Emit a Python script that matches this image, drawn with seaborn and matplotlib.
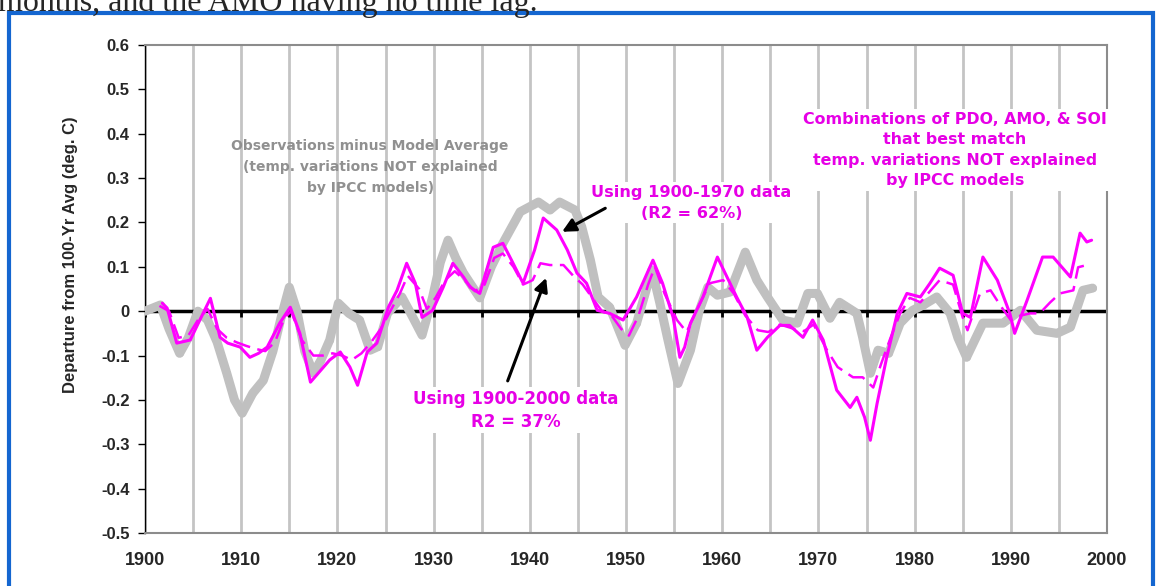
import numpy as np
import pandas as pd
import seaborn as sns
import matplotlib.pyplot as plt
from matplotlib.patches import Rectangle
from matplotlib.ticker import MultipleLocator

# Observations minus model average (grey)
obs_years = [1900.0, 1901.6, 1902.5, 1903.6, 1904.5, 1905.5, 1906.5, 1907.5, 1908.5, 1909.3,
             1910.1, 1911.2, 1912.3, 1913.3, 1914.2, 1915.0, 1915.8, 1916.6, 1917.5, 1918.3,
             1919.2, 1920.1, 1921.2, 1922.3, 1923.4, 1924.2, 1925.2, 1926.7, 1927.5, 1928.8,
             1929.9, 1930.7, 1931.5, 1932.3, 1933.1, 1934.8, 1936.0, 1937.2, 1939.0, 1940.9,
             1942.1, 1943.1, 1944.7, 1945.4, 1946.3, 1947.1, 1948.3, 1949.9, 1951.1, 1952.7,
             1953.5, 1954.3, 1955.4, 1956.7, 1957.6, 1958.5, 1959.5, 1960.8, 1962.4, 1963.6,
             1964.7, 1966.3, 1967.8, 1968.9, 1969.9, 1971.2, 1972.2, 1974.0, 1974.6, 1975.4,
             1976.2, 1977.3, 1978.5, 1979.8, 1981.0, 1982.3, 1983.7, 1984.5, 1985.4, 1987.1,
             1989.2, 1991.0, 1992.7, 1994.8, 1996.2, 1997.5, 1998.5]
obs_vals = [0.0, 0.014, -0.04, -0.095, -0.06, 0.0, -0.02, -0.07, -0.14, -0.2,
            -0.23, -0.185, -0.156, -0.09, -0.01, 0.054, 0.0, -0.09, -0.14, -0.11,
            -0.065, 0.018, -0.005, -0.02, -0.088, -0.08, -0.005, 0.032, 0.0, -0.054,
            0.032, 0.11, 0.16, 0.12, 0.086, 0.03, 0.1, 0.153, 0.224, 0.246,
            0.228, 0.246, 0.228, 0.19, 0.115, 0.032, 0.009, -0.077, -0.027, 0.093,
            0.02, -0.059, -0.163, -0.088, 0.0, 0.054, 0.036, 0.043, 0.133, 0.07,
            0.032, -0.02, -0.027, 0.04, 0.04, -0.016, 0.02, -0.005, -0.059, -0.14,
            -0.088, -0.095, -0.027, 0.002, 0.015, 0.032, -0.005, -0.06, -0.104, -0.027,
            -0.027, 0.002, -0.043, -0.05, -0.036, 0.047, 0.052]

# PDO/AMO/SOI fit using 1900-1970 data (solid magenta)
fit70_years = [1901.8, 1902.3, 1903.3, 1904.7, 1905.7, 1906.8, 1907.8, 1908.6, 1909.9, 1910.9,
               1911.8, 1912.7, 1914.0, 1915.1, 1916.1, 1917.2, 1919.2, 1920.3, 1921.3, 1922.1,
               1923.1, 1924.1, 1925.3, 1926.2, 1927.2, 1928.1, 1928.8, 1929.9, 1931.0, 1932.0,
               1933.1, 1933.8, 1934.8, 1936.2, 1937.2, 1938.1, 1939.3, 1940.5, 1941.4, 1942.8,
               1943.9, 1944.9, 1945.9, 1947.0, 1948.3, 1949.7, 1951.1, 1952.8, 1953.8, 1954.9,
               1955.6, 1956.1, 1956.7, 1958.0, 1959.5, 1960.5, 1961.5, 1962.6, 1963.6, 1964.7,
               1966.0, 1967.0, 1968.4, 1969.4, 1970.5, 1971.9, 1973.3, 1974.0, 1974.8, 1975.4,
               1976.1, 1977.1, 1978.2, 1979.2, 1980.6, 1981.6, 1982.6, 1984.0, 1985.0, 1985.8,
               1987.1, 1988.6, 1989.9, 1990.4, 1991.7, 1993.3, 1994.4, 1996.2, 1997.2, 1997.9,
               1998.4]
fit70_vals = [0.018, 0.007, -0.072, -0.065, -0.02, 0.029, -0.059, -0.072, -0.081, -0.104,
              -0.095, -0.081, -0.027, 0.009, -0.05, -0.16, -0.11, -0.092, -0.126, -0.167,
              -0.092, -0.072, 0.009, 0.047, 0.108, 0.063, -0.014, 0.002, 0.054, 0.108,
              0.077, 0.054, 0.04, 0.144, 0.153, 0.115, 0.063, 0.138, 0.21, 0.183,
              0.138, 0.086, 0.063, 0.002, -0.005, -0.02, 0.032, 0.115, 0.063, -0.014,
              -0.104, -0.081, -0.027, 0.032, 0.122, 0.077, 0.032, -0.014, -0.088, -0.059,
              -0.032, -0.032, -0.059, -0.02, -0.065, -0.178, -0.217, -0.194, -0.239, -0.291,
              -0.208, -0.104, -0.005, 0.04, 0.032, 0.063, 0.097, 0.081, -0.005, -0.014,
              0.122, 0.07, -0.005, -0.05, 0.025, 0.122, 0.122, 0.077, 0.176, 0.156,
              0.16]

# PDO/AMO/SOI fit using 1900-2000 data (dashed magenta)
fit00_years = [1901.5, 1902.5, 1903.5, 1904.5, 1905.5, 1906.5, 1907.5, 1908.5, 1909.5, 1910.5,
               1911.5, 1912.5, 1913.5, 1914.5, 1915.2, 1916.3, 1917.5, 1918.5, 1919.5, 1920.5,
               1921.5, 1922.5, 1923.5, 1924.5, 1925.5, 1926.5, 1927.3, 1928.5, 1929.3, 1930.2,
               1931.2, 1932.2, 1933.2, 1934.3, 1935.3, 1936.3, 1937.2, 1938.3, 1939.3, 1940.3,
               1941.1, 1942.1, 1943.5, 1944.5, 1945.5, 1946.5, 1947.5, 1948.5, 1949.5, 1950.3,
               1951.3, 1952.3, 1953.0, 1954.0, 1955.3, 1956.3, 1957.3, 1958.7, 1960.1, 1961.2,
               1962.4, 1963.7, 1964.8, 1966.0, 1967.5, 1968.5, 1969.5, 1970.9, 1972.0, 1973.6,
               1974.6, 1975.7, 1976.5, 1977.5, 1978.5, 1979.5, 1980.6, 1981.6, 1982.6, 1984.0,
               1985.0, 1985.5, 1986.8, 1987.9, 1989.0, 1990.0, 1991.0, 1992.0, 1993.0, 1994.1,
               1995.1, 1996.5, 1997.0, 1997.9]
fit00_vals = [0.012, 0.0, -0.06, -0.055, -0.02, 0.005, -0.04, -0.06, -0.07, -0.078,
              -0.085, -0.09, -0.07, -0.015, 0.0, -0.065, -0.1, -0.1, -0.095, -0.1,
              -0.11, -0.095, -0.07, -0.04, 0.0, 0.04, 0.08, 0.05, 0.005, 0.03,
              0.07, 0.09, 0.07, 0.045, 0.06, 0.12, 0.13, 0.1, 0.06, 0.07,
              0.108, 0.104, 0.104, 0.08, 0.06, 0.03, 0.0, -0.01, -0.04, -0.055,
              -0.01, 0.06, 0.1, 0.04, -0.02, -0.047, 0.0, 0.063, 0.07, 0.04,
              -0.01, -0.043, -0.047, -0.03, -0.04, -0.045, -0.03, -0.088, -0.126, -0.149,
              -0.149, -0.172, -0.12, -0.06, -0.005, 0.03, 0.02, 0.045, 0.07, 0.06,
              -0.014, -0.043, 0.04, 0.047, 0.01, -0.02, -0.01, -0.005, -0.005, 0.02,
              0.04, 0.047, 0.099, 0.104]

x_ticks = list(range(1900, 2001, 10))
y_ticks = [round(v, 1) for v in np.arange(-0.5, 0.61, 0.1)]

sns.set_style("white")
plt.rcParams['font.family'] = ['Liberation Sans', 'DejaVu Sans']

fig = plt.figure(figsize=(11.59, 5.86), dpi=100)
ax = fig.add_axes([145 / 1159, 53 / 586, 962 / 1159, 488 / 586])

# blue frame around the chart and the clipped caption line above it
fig.patches.append(Rectangle((9 / 1159, -0.05), 1144 / 1159, 1.05 - 13 / 586,
                             transform=fig.transFigure, fill=False,
                             edgecolor='#1466D0', lw=3))
fig.text(-2 / 1159, 1 - 11 / 586, "months, and the AMO having no time lag.",
         family=['Liberation Serif', 'DejaVu Serif'], fontsize=23, va='baseline', ha='left')

ax.axhline(0, color='black', lw=2.5, zorder=2)
ax.vlines(np.arange(1900, 2001, 5), -0.014, 0, color='black', lw=2, zorder=2)

obs = pd.DataFrame({'year': obs_years, 'dep': obs_vals})
f70 = pd.DataFrame({'year': fit70_years, 'dep': fit70_vals})
f00 = pd.DataFrame({'year': fit00_years, 'dep': fit00_vals})

sns.lineplot(data=obs, x='year', y='dep', ax=ax, color='#C0C0C0', lw=6.5,
             marker='o', markersize=5, markeredgewidth=0, sort=False, estimator=None,
             solid_capstyle='round', zorder=3)
sns.lineplot(data=f00, x='year', y='dep', ax=ax, color='#FF00FF', lw=1.8,
             linestyle=(0, (7, 3)), sort=False, estimator=None, zorder=4)
sns.lineplot(data=f70, x='year', y='dep', ax=ax, color='#FF00FF', lw=2.2,
             sort=False, estimator=None, zorder=5)

ax.set_xlim(1900, 2000)
ax.set_ylim(-0.5, 0.6)
ax.set_xticks(x_ticks)
ax.set_xticklabels([str(t) for t in x_ticks], fontsize=13, fontweight='bold')
ax.set_yticks(y_ticks)
ax.set_yticklabels(['0' if v == 0 else f"{v:.1f}" for v in y_ticks],
                   fontsize=12, fontweight='bold')
ax.xaxis.set_minor_locator(MultipleLocator(5))
ax.grid(which='both', axis='x', color='#C4C4C4', lw=2)
ax.tick_params(axis='x', which='both', length=0, pad=14)
ax.tick_params(axis='y', length=5, width=1, color='black', direction='out', pad=6, left=True)

ax.set_xlabel('')
ax.set_ylabel('Departure from 100-Yr Avg (deg. C)', fontsize=12, fontweight='bold')
ax.yaxis.set_label_coords(-0.07, 0.57)

for side in ['top', 'right', 'bottom']:
    ax.spines[side].set_color('#8C8C8C')
    ax.spines[side].set_linewidth(1.5)
ax.spines['left'].set_color('black')
ax.spines['left'].set_linewidth(1)

wide = ['DejaVu Sans']
box = dict(facecolor='white', edgecolor='none', pad=2)
ax.text(1923.4, 0.325, "Observations minus Model Average\n(temp. variations NOT explained\nby IPCC models)",
        color='#909090', family=wide, fontsize=10, fontweight='bold',
        ha='center', va='center', linespacing=1.6, zorder=7)
ax.text(1956.8, 0.244, "Using 1900-1970 data\n(R2 = 62%)",
        color='#E600E6', family=wide, fontsize=11.6, fontweight='bold',
        ha='center', va='center', linespacing=1.45, bbox=box, zorder=8)
ax.text(1938.5, -0.223, "Using 1900-2000 data\nR2 = 37%",
        color='#E600E6', family=wide, fontsize=12, fontweight='bold',
        ha='center', va='center', linespacing=1.35, bbox=box, zorder=8)
ax.text(1984.2, 0.363, "Combinations of PDO, AMO, & SOI\nthat best match\ntemp. variations NOT explained\nby IPCC models",
        color='#E600E6', family=wide, fontsize=11.4, fontweight='bold',
        ha='center', va='center', linespacing=1.45, bbox=box, zorder=7)

ax.annotate('', xy=(1943.1, 0.176), xytext=(1948.1, 0.235),
            arrowprops=dict(arrowstyle='-|>', color='black', lw=2.2, mutation_scale=20), zorder=9)
ax.annotate('', xy=(1941.8, 0.081), xytext=(1937.6, -0.163),
            arrowprops=dict(arrowstyle='-|>', color='black', lw=2.2, mutation_scale=20), zorder=9)

fig.savefig('out.png', dpi=100)
